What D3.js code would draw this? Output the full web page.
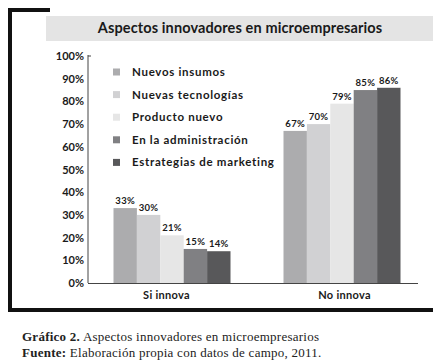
<!DOCTYPE html>
<html lang="es">
<head>
<meta charset="UTF-8">
<title>Aspectos innovadores en microempresarios</title>
<script src="https://cdn.jsdelivr.net/npm/d3@7"></script>
<style>
  body { margin: 0; background: #fff; }
  svg { display: block; }
</style>
</head>
<body>
<svg width="433" height="364"></svg>
<script>
var categories = ['Si innova', 'No innova']
var series = ['Nuevos insumos', 'Nuevas tecnologías', 'Producto nuevo', 'En la administración', 'Estrategias de marketing']
var colors = ['#acacae', '#d1d1d3', '#e6e6e6', '#808083', '#58585a']
// valores en %, una lista por serie: [Si innova, No innova]
var nuevosInsumos = [33, 67]
var nuevasTecnologias = [30, 70]
var productoNuevo = [21, 79]
var administracion = [15, 85]
var marketing = [14, 86]
var values = [nuevosInsumos, nuevasTecnologias, productoNuevo, administracion, marketing]
var yTicks = [0, 10, 20, 30, 40, 50, 60, 70, 80, 90, 100]

var svg = d3.select('svg')
var fontSans = 'Lato, "Open Sans", sans-serif'

// marco negro (L)
svg.append('rect').attr('x', 8).attr('y', 8).attr('width', 42).attr('height', 4).attr('fill', '#111')
svg.append('rect').attr('x', 8).attr('y', 8).attr('width', 4).attr('height', 304).attr('fill', '#111')
svg.append('rect').attr('x', 8).attr('y', 308).attr('width', 425).attr('height', 4).attr('fill', '#111')

// banda del titulo
svg.append('rect').attr('x', 46).attr('y', 16).attr('width', 387).attr('height', 25).attr('fill', '#e4e4e4')
svg.append('text').attr('x', 240).attr('y', 33).attr('text-anchor', 'middle')
    .style('font-family', fontSans).style('font-weight', 'bold').style('font-size', '14.5px')
    .style('letter-spacing', '0.12px')
    .attr('fill', '#1a1a1a').text('Aspectos innovadores en microempresarios')

// escalas
var x0 = d3.scalePoint().domain(categories).range([87, 427]).padding(0.5)
var x1 = d3.scaleBand().domain(d3.range(series.length)).range([-58.5, 58.5])
var y = d3.scaleLinear().domain([0, 100]).range([283, 56])

// eje y
var axisY = d3.axisLeft(y).tickValues(yTicks).tickSize(0).tickPadding(4)
    .tickFormat(function (d) { return d + '%' })
var gy = svg.append('g').attr('transform', 'translate(88,0)').call(axisY)
gy.select('.domain').remove()
gy.selectAll('text').style('font-family', fontSans).style('font-weight', 'bold')
    .style('font-size', '11px').attr('fill', '#1a1a1a')
svg.append('line').attr('x1', 88).attr('x2', 88).attr('y1', y(100) - 1).attr('y2', y(0))
    .attr('stroke', '#444').attr('stroke-width', 1)
svg.append('line').attr('x1', 88).attr('x2', 91).attr('y1', y(100)).attr('y2', y(100))
    .attr('stroke', '#444').attr('stroke-width', 1)

// barras
var groups = svg.selectAll('g.grupo').data(categories).enter().append('g')
    .attr('class', 'grupo')
    .attr('transform', function (d) { return 'translate(' + x0(d) + ',0)' })

groups.each(function (cat, ci) {
    var g = d3.select(this)
    var rows = values.map(function (v, si) { return { s: si, v: v[ci] } })
    g.selectAll('rect').data(rows).enter().append('rect')
        .attr('x', function (d) { return x1(d.s) })
        .attr('y', function (d) { return y(d.v) })
        .attr('width', x1.bandwidth())
        .attr('height', function (d) { return y(0) - y(d.v) })
        .attr('fill', function (d) { return colors[d.s] })
    g.selectAll('text').data(rows).enter().append('text')
        .attr('x', function (d) { return x1(d.s) + x1.bandwidth() / 2 })
        .attr('y', function (d) { return y(d.v) - 4 })
        .attr('text-anchor', 'middle')
        .style('font-family', fontSans).style('font-weight', 'bold').style('font-size', '9.5px')
        .style('letter-spacing', '0.3px')
        .attr('fill', '#1a1a1a')
        .text(function (d) { return d.v + '%' })
})

// eje x
var axisX = d3.axisBottom(x0).tickSize(0).tickPadding(8)
var gx = svg.append('g').attr('transform', 'translate(0,283)').call(axisX)
gx.select('.domain').remove()
gx.selectAll('text').style('font-family', fontSans).style('font-weight', 'bold')
    .style('font-size', '11px').style('letter-spacing', '0.3px').attr('fill', '#1a1a1a')
    .attr('dx', function (d, i) { return i === 0 ? -6 : 2 })
svg.append('line').attr('x1', 88).attr('x2', 418).attr('y1', 283.5).attr('y2', 283.5)
    .attr('stroke', '#444').attr('stroke-width', 1)

// leyenda
var legend = svg.selectAll('g.leyenda').data(series).enter().append('g')
    .attr('class', 'leyenda')
    .attr('transform', function (d, i) { return 'translate(113,' + (72 + i * 22.6) + ')' })
legend.append('rect').attr('x', 0).attr('y', -3.5).attr('width', 7).attr('height', 7)
    .attr('fill', function (d, i) { return colors[i] })
legend.append('text').attr('x', 19).attr('y', 4)
    .style('font-family', fontSans).style('font-weight', 'bold').style('font-size', '11.5px')
    .style('letter-spacing', '0.7px')
    .attr('fill', '#1a1a1a').text(function (d) { return d })

// pie de figura
var cap = svg.append('g').style('font-family', '"Liberation Serif", serif').style('font-size', '13px')
    .style('letter-spacing', '0.25px').attr('fill', '#222')
var t1 = cap.append('text').attr('x', 22).attr('y', 341)
t1.append('tspan').style('font-weight', 'bold').text('Gráfico 2.')
t1.append('tspan').text(' Aspectos innovadores en microempresarios')
var t2 = cap.append('text').attr('x', 22).attr('y', 357)
t2.append('tspan').style('font-weight', 'bold').text('Fuente:')
t2.append('tspan').text(' Elaboración propia con datos de campo, 2011.')
</script>
</body>
</html>
